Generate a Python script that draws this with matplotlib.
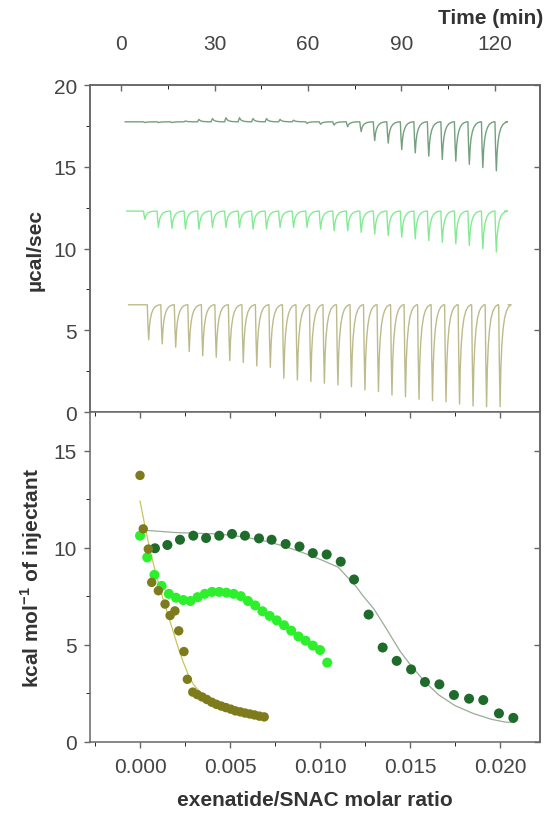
import matplotlib
matplotlib.use("Agg")
import matplotlib.pyplot as plt
from matplotlib.ticker import MultipleLocator, FormatStrFormatter, NullFormatter

plt.rcParams['font.family'] = ['Liberation Sans', 'DejaVu Sans']

# ---- raw thermograms (top panel): injection times (min), baselines, peak depths (ucal/sec)
inj_start = 7.2          # first injection, min
inj_step = 4.34          # spacing between injections, min
n_inj = 27
inj_times = [inj_start + inj_step * i for i in range(n_inj)]
olive_shift = 1.2        # olive run started a little later

trace_top_base = 17.75
trace_top_depth = [0.05, 0.05, 0.05, -0.05, -0.15, -0.2, -0.25, -0.25, -0.2, -0.2,
                   -0.15, -0.1, 0.1, 0.15, 0.2, 0.3, 0.6, 1.15, 1.3, 1.7,
                   1.9, 2.1, 2.3, 2.4, 2.6, 2.8, 3.0]
trace_top_span = (1.3, 123.7)

trace_mid_base = 12.29
trace_mid_depth = [0.5, 1.0, 1.05, 1.1, 1.1, 1.0, 1.0, 1.0, 1.1, 1.1,
                   1.0, 1.0, 1.0, 1.1, 1.2, 1.2, 1.3, 1.4, 1.5, 1.6,
                   1.7, 1.8, 1.9, 2.0, 2.1, 2.3, 2.5]
trace_mid_span = (1.8, 123.2)

trace_bot_base = 6.56
trace_bot_depth = [2.14, 2.39, 2.59, 2.86, 3.12, 3.21, 3.41, 3.53, 3.74, 3.82,
                   4.49, 4.60, 4.70, 4.80, 4.90, 5.01, 5.21, 5.31, 5.52, 5.62,
                   5.78, 5.87, 5.93, 6.07, 6.19, 6.23, 6.23]
trace_bot_span = (2.4, 124.3)

# peak shape used for every injection (time offset in min, fraction of depth)
PEAK_DT = [0.0, 0.2, 0.45, 0.7, 1.0, 1.4, 1.9, 2.5, 3.2, 4.0]
PEAK_FRAC = [0.0, 0.55, 1.0, 0.62, 0.4, 0.24, 0.13, 0.06, 0.02, 0.0]

# ---- integrated heats (bottom panel)
dark_x = [0.00083, 0.00152, 0.00222, 0.00296, 0.00367, 0.00440, 0.00511, 0.00583, 0.00661,
          0.00731, 0.00809, 0.00886, 0.00960, 0.01037, 0.01115, 0.01189, 0.01270, 0.01348,
          0.01426, 0.01506, 0.01583, 0.01663, 0.01744, 0.01828, 0.01907, 0.01994, 0.02074]
dark_y = [9.97, 10.14, 10.41, 10.62, 10.50, 10.62, 10.71, 10.62, 10.48,
          10.41, 10.19, 10.06, 9.72, 9.65, 9.28, 8.36, 6.55, 4.85,
          4.16, 3.72, 3.07, 2.95, 2.40, 2.21, 2.14, 1.45, 1.22]
dark_fit_x = [0.0003, 0.001, 0.002, 0.003, 0.004, 0.005, 0.006, 0.007, 0.008, 0.009, 0.010,
              0.011, 0.012, 0.0124, 0.013, 0.0137, 0.01444, 0.015, 0.0158, 0.0166, 0.0175,
              0.0185, 0.0195, 0.0203, 0.0208]
dark_fit_y = [10.9, 10.85, 10.78, 10.75, 10.72, 10.65, 10.52, 10.33, 10.08, 9.76, 9.4,
              9.0, 8.0, 7.5, 6.83, 5.8, 4.67, 3.98, 3.1, 2.4, 1.85,
              1.45, 1.15, 1.0, 0.98]

bright_x = [0.0000, 0.0004, 0.0008, 0.0012, 0.0016, 0.0020, 0.0024, 0.0028, 0.0032,
            0.0036, 0.0040, 0.0044, 0.0048, 0.0052, 0.0056, 0.0060, 0.0064, 0.0068,
            0.0072, 0.0076, 0.0080, 0.0084, 0.0088, 0.0092, 0.0096, 0.0100, 0.0104]
bright_y = [10.62, 9.5, 8.6, 8.03, 7.62, 7.42, 7.30, 7.25, 7.45,
            7.62, 7.72, 7.72, 7.68, 7.62, 7.50, 7.25, 7.02, 6.72,
            6.48, 6.25, 6.0, 5.72, 5.42, 5.2, 4.95, 4.72, 4.07]

olive_x = [0.0, 0.00018, 0.00046, 0.00065, 0.00102, 0.00139, 0.00167, 0.00194, 0.00215,
           0.00244, 0.00263, 0.00293, 0.00318, 0.00345, 0.00371, 0.00398, 0.00424, 0.00451,
           0.00477, 0.00504, 0.0053, 0.00557, 0.00583, 0.0061, 0.00636, 0.00663, 0.0069]
olive_y = [13.73, 10.97, 9.93, 8.21, 7.78, 7.09, 6.50, 6.74, 5.71,
           4.64, 3.21, 2.55, 2.42, 2.30, 2.17, 2.03, 1.92, 1.83,
           1.75, 1.67, 1.58, 1.53, 1.47, 1.42, 1.37, 1.31, 1.27]
olive_fit_x = [0.0, 0.0003, 0.0006, 0.0009, 0.0012, 0.0015, 0.0018, 0.0021, 0.0024, 0.0027,
               0.003, 0.0035, 0.004, 0.0045, 0.005, 0.0055, 0.006, 0.0065, 0.0069]
olive_fit_y = [12.4, 11.0, 9.7, 8.6, 7.6, 6.7, 5.8, 4.9, 4.1, 3.4,
               2.9, 2.4, 2.05, 1.8, 1.6, 1.48, 1.38, 1.3, 1.25]

C_DARK, C_BRIGHT, C_OLIVE = '#1e6b2c', '#2cf02c', '#7e7b1c'
C_TR_TOP, C_TR_MID, C_TR_BOT = '#73a07e', '#84eb94', '#bdbb8c'
TXT = '#333333'
AX = '#666666'


def build_trace(times, base, depths, span):
    t = [span[0], times[0]]
    y = [base, base]
    for ti, d in zip(times, depths):
        for dt, f in zip(PEAK_DT, PEAK_FRAC):
            t.append(ti + dt)
            y.append(base - d * f)
    t.append(span[1])
    y.append(base)
    return t, y


def style_axes(ax):
    for s in ax.spines.values():
        s.set_color(AX)
        s.set_linewidth(1.1)
    ax.tick_params(colors=AX, labelcolor='#444444', labelsize=15, width=1.0)
    ax.tick_params(which='major', length=4.5)
    ax.tick_params(which='minor', length=2.8)


def right_ticks(ax):
    # inward major ticks on the right frame, no labels
    sec = ax.secondary_yaxis('right')
    sec.yaxis.set_major_locator(MultipleLocator(5))
    sec.yaxis.set_major_formatter(NullFormatter())
    sec.spines['right'].set_color(AX)
    sec.spines['right'].set_linewidth(1.1)
    sec.tick_params(direction='in', length=4.5, width=1.0, colors=AX)


fig = plt.figure(figsize=(5.45, 8.2), dpi=100)
ax1 = fig.add_axes([0.1651, 0.4963, 0.8257, 0.3988])
ax2 = fig.add_axes([0.1651, 0.0945, 0.8257, 0.4018])

# molar-ratio ticks along the bottom of the top panel (no labels)
ax1b = ax1.twiny()
ax1b.set_xlim(-0.00278, 0.02222)
ax1b.xaxis.set_ticks_position('bottom')
ax1b.xaxis.set_major_locator(MultipleLocator(0.005))
ax1b.xaxis.set_minor_locator(MultipleLocator(0.0025))
style_axes(ax1b)
ax1b.tick_params(axis='x', which='both', direction='out', labelbottom=False, labeltop=False)
ax1b.tick_params(axis='y', which='both', left=False, right=False,
                 labelleft=False, labelright=False)

# ---- top panel: raw data vs time
for depths, base, span, shift, col in [
        (trace_top_depth, trace_top_base, trace_top_span, 0.0, C_TR_TOP),
        (trace_mid_depth, trace_mid_base, trace_mid_span, 0.0, C_TR_MID),
        (trace_bot_depth, trace_bot_base, trace_bot_span, olive_shift, C_TR_BOT)]:
    t, y = build_trace([ti + shift for ti in inj_times], base, depths, span)
    ax1.plot(t, y, color=col, lw=1.0)

ax1.set_xlim(-10, 134.5)
ax1.set_ylim(0, 20)
ax1.xaxis.tick_top()
ax1.xaxis.set_major_locator(MultipleLocator(30))
ax1.xaxis.set_minor_locator(MultipleLocator(15))
ax1.yaxis.set_major_locator(MultipleLocator(5))
ax1.yaxis.set_minor_locator(MultipleLocator(2.5))
style_axes(ax1)
ax1.tick_params(axis='x', which='both', direction='in', pad=23,
                top=True, bottom=False, labeltop=True, labelbottom=False)
ax1.tick_params(axis='y', which='both', direction='out', pad=5)
ax1.set_ylabel('µcal/sec', fontsize=15, fontweight='bold', color=TXT, labelpad=6)
right_ticks(ax1)
fig.text(0.997, 0.978, 'Time (min)', ha='right', va='center', fontsize=15,
         fontweight='bold', color=TXT)

# ---- bottom panel: integrated heats
ax2.plot(dark_fit_x, dark_fit_y, color='#98ad98', lw=0.9, zorder=2)
ax2.plot(olive_fit_x, olive_fit_y, color='#c9c55e', lw=0.9, zorder=2)
ax2.scatter(dark_x, dark_y, s=52, color=C_DARK, edgecolors='none', zorder=3)
ax2.scatter(bright_x, bright_y, s=52, color=C_BRIGHT, edgecolors='none', zorder=4)
ax2.scatter(olive_x, olive_y, s=46, color=C_OLIVE, edgecolors='none', zorder=5)

ax2.set_xlim(-0.00278, 0.02222)
ax2.set_ylim(0, 17)
ax2.xaxis.set_major_locator(MultipleLocator(0.005))
ax2.xaxis.set_minor_locator(MultipleLocator(0.0025))
ax2.xaxis.set_major_formatter(FormatStrFormatter('%.3f'))
ax2.yaxis.set_major_locator(MultipleLocator(5))
ax2.yaxis.set_minor_locator(MultipleLocator(2.5))
style_axes(ax2)
ax2.tick_params(which='both', direction='out', pad=5)
ax2.tick_params(axis='x', pad=7)
ax2.spines['top'].set_visible(False)
right_ticks(ax2)
ax2.set_xlabel('exenatide/SNAC molar ratio', fontsize=15, fontweight='bold',
               color=TXT, labelpad=10)
ax2.set_ylabel(r'kcal mol$^{\mathregular{-1}}$ of injectant', fontsize=15,
               fontweight='bold', color=TXT, labelpad=6)

fig.savefig('out.png', dpi=100)
